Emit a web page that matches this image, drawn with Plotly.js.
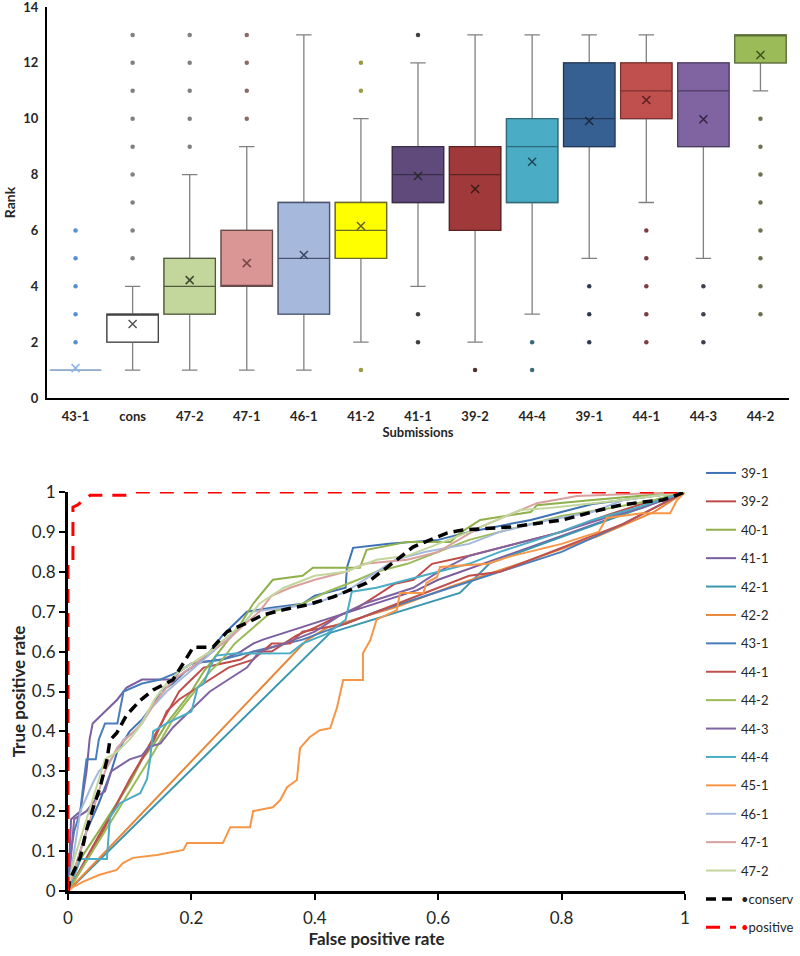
<!DOCTYPE html>
<html><head><meta charset="utf-8">
<script src="https://cdn.plot.ly/plotly-3.0.1.min.js"></script>
<style>html,body{margin:0;padding:0;background:#fff}#c{width:800px;height:956px}</style>
</head><body><div id="c"></div>
<script>
// ---------- Top chart: rank box plots ----------
const cats = ['43-1','cons','47-2','47-1','46-1','41-2','41-1','39-2','44-4','39-1','44-1','44-3','44-2'];
const q1Vals = [1,2,3,4,3,5,7,6,7,9,10,9,12];
const medianVals = [1,3,4,4,5,6,8,8,9,10,11,11,13];
const q3Vals = [1,3,5,6,7,7,9,9,10,12,12,12,13];
const lowWhisker = [1,1,1,1,1,2,4,2,3,5,7,5,11];
const highWhisker = [1,4,8,9,13,10,12,13,13,13,13,12,13];
const meanVals = [1.07,2.65,4.22,4.83,5.12,6.16,7.95,7.48,8.46,9.92,10.67,9.98,12.28];
const outlierVals = [[2,3,4,5,6],[5,6,7,8,9,10,11,12,13],[9,10,11,12,13],[10,11,12,13],[],[1,11,12],[2,3,13],[1],[1,2],[2,3,4],[2,3,4,5,6],[2,3,4],[3,4,5,6,7,8,9,10]];
const rankTicks = [0,2,4,6,8,10,12,14];
const boxFill = ['#ffffff','#ffffff','#c3d69b','#d99694','#a6b9dc','#ffff00','#604a7b','#a0393a','#4bacc6','#376092','#c0504d','#8064a2','#9bbb59'];
const boxLine = ['#8db4e2','#404040','#4f5b3a','#6b4948','#4a5670','#6b6b2a','#3a2d4a','#5e2221','#2d6a7a','#22395a','#7a3130','#4d3c62','#5c7035'];
const outlierColor = ['#5b8fd0','#808080','#808080','#8a6a6a','#808080','#9a9a40','#404040','#503030','#3a6a78','#303a50','#7a4040','#404050','#707050'];
const meanColor = ['#8db4e2','#555555','#404a30','#7a4848','#3a4660','#606020','#2a2a2a','#3a1a1a','#1f4a56','#1a2a40','#5a2020','#2f2540','#3f5020'];

// ---------- Bottom chart: ROC curves ----------
const roc391x = [0,0.01,0.03,0.05,0.07,0.08,0.1,0.12,0.14,0.15,0.17,0.19,0.21,0.23,0.25,0.27,0.29,0.33,0.38,0.4,0.45,0.452,0.462,0.52,0.6,0.65,0.75,0.85,1];
const roc391y = [0,0.05,0.15,0.22,0.3,0.35,0.4,0.43,0.47,0.5,0.52,0.55,0.57,0.6,0.64,0.67,0.7,0.71,0.72,0.74,0.76,0.81,0.86,0.87,0.88,0.9,0.93,0.97,1];
const roc392x = [0,0.165,0.18,0.2,0.22,0.25,0.28,0.3,0.33,0.35,0.37,0.4,0.44,0.47,0.5,0.53,0.56,0.59,0.65,0.7,0.75,0.8,0.87,0.93,1];
const roc392y = [0,0.46,0.5,0.53,0.56,0.57,0.58,0.6,0.6,0.62,0.64,0.66,0.69,0.71,0.74,0.77,0.78,0.82,0.84,0.86,0.88,0.9,0.94,0.97,1];
const roc401x = [0,0.02,0.05,0.08,0.1,0.12,0.14,0.16,0.18,0.2,0.22,0.24,0.26,0.28,0.3,0.316,0.332,0.38,0.397,0.473,0.484,0.55,0.62,0.635,0.668,0.75,0.76,0.85,1];
const roc401y = [0,0.08,0.15,0.22,0.27,0.33,0.37,0.42,0.46,0.5,0.55,0.59,0.63,0.67,0.72,0.75,0.78,0.79,0.81,0.81,0.855,0.875,0.875,0.897,0.93,0.95,0.967,0.98,1];
const roc411x = [0,0.005,0.02,0.03,0.035,0.04,0.06,0.08,0.095,0.12,0.17,0.18,0.2,0.25,0.28,0.3,0.316,0.566,0.6,0.93,1];
const roc411y = [0,0.18,0.2,0.3,0.38,0.42,0.45,0.48,0.51,0.53,0.53,0.55,0.57,0.58,0.6,0.62,0.63,0.754,0.78,0.96,1];
const roc421x = [0,0.425,0.635,0.684,1];
const roc421y = [0,0.647,0.747,0.822,1];
const roc422x = [0,0.387,0.42,0.533,0.619,0.75,0.86,0.95,1];
const roc422y = [0,0.629,0.66,0.712,0.762,0.83,0.89,0.95,1];
const roc431x = [0,0.005,0.01,0.02,0.025,0.03,0.045,0.05,0.06,0.08,0.09,0.12,0.15,0.18,0.2,0.25,0.3,0.38,0.45,0.5,0.6,0.7,0.8,0.9,1];
const roc431y = [0,0.1,0.15,0.2,0.27,0.33,0.33,0.38,0.42,0.42,0.5,0.52,0.53,0.55,0.57,0.58,0.6,0.63,0.67,0.7,0.75,0.8,0.85,0.92,1];
const roc441x = [0,0.02,0.05,0.08,0.1,0.12,0.14,0.16,0.18,0.22,0.26,0.3,0.33,0.36,0.38,0.45,0.5,0.55,0.6,0.65,0.7,0.75,0.82,0.9,1];
const roc441y = [0,0.05,0.13,0.22,0.28,0.33,0.38,0.45,0.48,0.52,0.56,0.58,0.62,0.62,0.65,0.67,0.7,0.73,0.76,0.79,0.8,0.83,0.87,0.92,1];
const roc442x = [0,0.06,0.1,0.14,0.17,0.19,0.21,0.23,0.25,0.27,0.3,0.33,0.38,0.42,0.47,0.5,0.55,0.6,0.65,0.7,0.75,0.8,0.88,0.95,1];
const roc442y = [0,0.15,0.25,0.35,0.43,0.47,0.51,0.55,0.58,0.62,0.66,0.7,0.72,0.75,0.78,0.8,0.82,0.85,0.88,0.9,0.92,0.94,0.96,0.98,1];
const roc443x = [0,0.005,0.01,0.03,0.04,0.05,0.06,0.07,0.09,0.1,0.12,0.13,0.15,0.17,0.19,0.21,0.23,0.26,0.29,0.31,0.35,0.4,0.44,0.48,0.52,0.56,0.6,0.65,0.7,0.75,0.8,0.88,0.93,1];
const roc443y = [0,0.1,0.18,0.2,0.22,0.24,0.25,0.3,0.32,0.33,0.34,0.36,0.37,0.41,0.44,0.47,0.5,0.53,0.56,0.6,0.62,0.65,0.69,0.72,0.74,0.76,0.8,0.84,0.86,0.88,0.9,0.94,0.96,1];
const roc444x = [0,0.008,0.02,0.063,0.068,0.084,0.117,0.128,0.133,0.138,0.16,0.2,0.21,0.22,0.23,0.24,0.27,0.36,0.38,0.42,0.45,0.46,0.5,0.57,0.6,0.65,0.7,0.78,0.85,0.92,1];
const roc444y = [0,0.03,0.08,0.08,0.185,0.22,0.245,0.28,0.33,0.4,0.42,0.45,0.51,0.52,0.56,0.59,0.595,0.596,0.62,0.645,0.68,0.75,0.76,0.787,0.8,0.82,0.85,0.89,0.93,0.96,1];
const roc451x = [0,0.008,0.024,0.05,0.079,0.089,0.105,0.144,0.187,0.193,0.251,0.263,0.295,0.3,0.332,0.344,0.355,0.371,0.376,0.392,0.408,0.425,0.436,0.446,0.478,0.478,0.49,0.5,0.533,0.538,0.576,0.581,0.598,0.603,0.68,0.72,0.8,0.86,0.873,0.93,0.976,0.987,1];
const roc451y = [0,0.01,0.023,0.04,0.053,0.07,0.083,0.09,0.103,0.12,0.12,0.16,0.16,0.2,0.21,0.228,0.26,0.278,0.358,0.386,0.403,0.408,0.46,0.529,0.529,0.596,0.629,0.68,0.704,0.747,0.747,0.772,0.787,0.812,0.82,0.84,0.87,0.9,0.935,0.947,0.947,0.98,1];
const roc461x = [0,0.01,0.02,0.04,0.05,0.07,0.09,0.11,0.13,0.16,0.19,0.22,0.25,0.28,0.3,0.35,0.4,0.45,0.47,0.5,0.53,0.58,0.65,0.7,0.78,0.85,0.9,1];
const roc461y = [0,0.1,0.2,0.27,0.3,0.33,0.38,0.4,0.45,0.5,0.54,0.58,0.62,0.66,0.7,0.71,0.72,0.75,0.77,0.8,0.83,0.85,0.87,0.9,0.93,0.95,0.98,1];
const roc471x = [0,0.02,0.04,0.06,0.08,0.1,0.12,0.14,0.16,0.18,0.2,0.23,0.26,0.28,0.31,0.33,0.36,0.4,0.45,0.48,0.55,0.6,0.668,0.76,0.825,1];
const roc471y = [0,0.1,0.2,0.3,0.36,0.39,0.42,0.47,0.51,0.54,0.56,0.6,0.63,0.66,0.7,0.74,0.76,0.78,0.8,0.82,0.83,0.85,0.912,0.972,0.99,1];
const roc472x = [0,0.01,0.03,0.05,0.06,0.08,0.1,0.12,0.14,0.16,0.18,0.2,0.23,0.26,0.29,0.31,0.35,0.4,0.45,0.5,0.55,0.6,0.65,0.733,0.78,0.9,1];
const roc472y = [0,0.08,0.18,0.28,0.33,0.35,0.38,0.42,0.48,0.52,0.55,0.57,0.6,0.64,0.68,0.72,0.76,0.79,0.8,0.83,0.84,0.87,0.9,0.955,0.96,0.98,1];
const rocConsX = [0,0.003,0.02,0.03,0.041,0.052,0.063,0.068,0.079,0.095,0.117,0.138,0.17,0.203,0.235,0.258,0.29,0.316,0.355,0.387,0.43,0.484,0.533,0.559,0.614,0.64,0.716,0.76,0.802,0.862,0.895,0.932,0.964,1];
const rocConsY = [0,0.028,0.085,0.153,0.21,0.26,0.328,0.378,0.396,0.441,0.478,0.504,0.529,0.611,0.611,0.65,0.672,0.692,0.707,0.717,0.737,0.772,0.83,0.862,0.897,0.905,0.912,0.922,0.93,0.955,0.967,0.975,0.98,1];
const rocPosX = [0,0,0.008,0.008,0.015,0.036,0.095,0.11,1];
const rocPosY = [0,0.817,0.817,0.962,0.967,0.992,0.992,1,1];

const rocNames = ['39-1','39-2','40-1','41-1','42-1','42-2','43-1','44-1','44-2','44-3','44-4','45-1','46-1','47-1','47-2'];
const rocX = [roc391x,roc392x,roc401x,roc411x,roc421x,roc422x,roc431x,roc441x,roc442x,roc443x,roc444x,roc451x,roc461x,roc471x,roc472x];
const rocY = [roc391y,roc392y,roc401y,roc411y,roc421y,roc422y,roc431y,roc441y,roc442y,roc443y,roc444y,roc451y,roc461y,roc471y,roc472y];
const rocColors = ['#3d72b4','#be4b48','#8fb04a','#7b5ea0','#3b97b0','#e8863a','#4a7ebb','#c0504d','#9bbb59','#8064a2','#4bacc6','#f79646','#a5b9dd','#d9a09e','#c3d69b'];

const traces = [];
// whiskers layer (gray)
cats.forEach((c,i)=>{
  traces.push({type:'box', x:[c], q1:[q1Vals[i]], median:[medianVals[i]], q3:[q3Vals[i]],
    lowerfence:[lowWhisker[i]], upperfence:[highWhisker[i]], width:0.9, whiskerwidth:0.3,
    fillcolor:'rgba(0,0,0,0)', line:{color:'#808080', width:1.3}, boxpoints:false,
    xaxis:'x', yaxis:'y', showlegend:false, hoverinfo:'skip'});
});
// box layer (colored)
cats.forEach((c,i)=>{
  traces.push({type:'box', x:[c], q1:[q1Vals[i]], median:[medianVals[i]], q3:[q3Vals[i]],
    lowerfence:[q1Vals[i]], upperfence:[q3Vals[i]], width:0.9, whiskerwidth:0,
    fillcolor:boxFill[i], line:{color:boxLine[i], width:1.3}, boxpoints:false,
    xaxis:'x', yaxis:'y', showlegend:false});
});
// outliers
cats.forEach((c,i)=>{
  if (!outlierVals[i].length) return;
  traces.push({type:'scatter', mode:'markers', x:outlierVals[i].map(()=>c), y:outlierVals[i],
    marker:{size:4.5, color:outlierColor[i]}, xaxis:'x', yaxis:'y', showlegend:false});
});
// means
traces.push({type:'scatter', mode:'markers', x:cats, y:meanVals,
  marker:{symbol:'x-thin-open', size:8, color:meanColor, line:{width:1.5, color:meanColor}},
  xaxis:'x', yaxis:'y', showlegend:false});

// ROC curves
rocNames.forEach((n,i)=>{
  traces.push({type:'scatter', mode:'lines', name:n, x:rocX[i], y:rocY[i],
    line:{color:rocColors[i], width:2}, xaxis:'x2', yaxis:'y2', legendgroup:n});
});
traces.push({type:'scatter', mode:'lines', name:'•conserv', x:rocConsX, y:rocConsY,
  line:{color:'#000000', width:3.5, dash:'10px,6px'}, xaxis:'x2', yaxis:'y2', legendgroup:'conserv'});
traces.push({type:'scatter', mode:'lines', name:'<span style="color:#ff0000">•</span>positive', x:rocPosX, y:rocPosY,
  line:{color:'#ff0000', width:3, dash:'14px,10px'}, xaxis:'x2', yaxis:'y2', legendgroup:'positive'});

const F = 'Lato, "Open Sans", "Liberation Sans", sans-serif';
const layout = {
  width:800, height:956, margin:{l:0,r:0,t:0,b:0,autoexpand:false}, paper_bgcolor:'#fff', plot_bgcolor:'#fff',
  font:{family:F, color:'#262626'}, boxmode:'overlay', showlegend:true,
  xaxis:{domain:[47/800, 789/800], anchor:'y', type:'category', range:[-0.5,12.5],
    showline:true, linecolor:'#000', linewidth:2, ticks:'', showgrid:false, zeroline:false, automargin:false,
    ticklabelstandoff:5, tickfont:{size:13, weight:'bold', color:'#262626'},
    title:{text:'<b>Submissions</b>', font:{size:13, color:'#262626'}, standoff:2}},
  yaxis:{domain:[1-398/956, 1-7/956], anchor:'x', range:[0,14], tickmode:'array', tickvals:rankTicks, automargin:false,
    showline:true, linecolor:'#000', linewidth:2, ticks:'', showgrid:false, zeroline:false,
    ticklabeloverflow:'allow', ticklabelstandoff:4, tickfont:{size:13, weight:'bold', color:'#262626'},
    title:{text:'<b>Rank</b>', font:{size:14, color:'#262626'}, standoff:4}},
  xaxis2:{domain:[68/800, 685/800], anchor:'y2', range:[0,1], dtick:0.2, automargin:false,
    showline:true, linecolor:'#000', linewidth:3, ticks:'outside', ticklen:6, tickwidth:2, tickcolor:'#000',
    showgrid:false, zeroline:false, ticklabelstandoff:4, tickfont:{size:17, color:'#262626'},
    title:{text:'<b>False positive rate</b>', font:{size:17, color:'#262626'}, standoff:6}},
  yaxis2:{domain:[1-891/956, 1-492/956], anchor:'x2', range:[0,1], dtick:0.1, automargin:false,
    showline:true, linecolor:'#000', linewidth:3, ticks:'outside', ticklen:6, tickwidth:2, tickcolor:'#000',
    showgrid:false, zeroline:false, layer:'below traces', tickfont:{size:17, color:'#262626'},
    title:{text:'<b>True positive rate</b>', font:{size:17, color:'#262626'}, standoff:2}},
  legend:{x:701/800, xanchor:'left', y:1-458/956, yanchor:'top', font:{size:13, color:'#262626'},
    tracegroupgap:8.5, bgcolor:'rgba(0,0,0,0)'}
};
Plotly.newPlot('c', traces, layout, {displayModeBar:false, staticPlot:true});
</script>
</body></html>
